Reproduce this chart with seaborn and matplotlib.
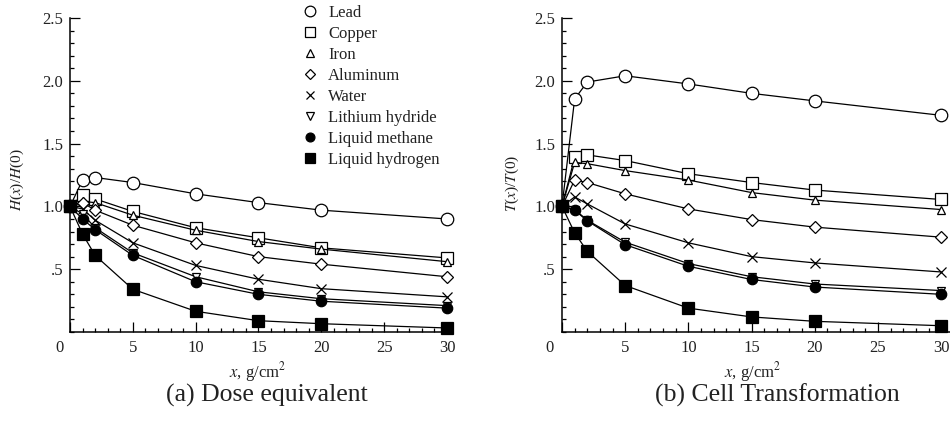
import matplotlib
matplotlib.use("Agg")
import matplotlib.pyplot as plt
import matplotlib.transforms as mtransforms
from matplotlib.lines import Line2D
from matplotlib.ticker import MultipleLocator
import seaborn as sns
import pandas as pd

x = [0, 1, 2, 5, 10, 15, 20, 30]

materials = ['Lead', 'Copper', 'Iron', 'Aluminum', 'Water',
             'Lithium hydride', 'Liquid methane', 'Liquid hydrogen']

# dose equivalent H(x)/H(0)
dose = {
    'Lead':            [1.0, 1.21, 1.23, 1.19, 1.10, 1.03, 0.97, 0.90],
    'Copper':          [1.0, 1.09, 1.06, 0.96, 0.83, 0.75, 0.67, 0.59],
    'Iron':            [1.0, 1.04, 1.03, 0.93, 0.81, 0.72, 0.66, 0.56],
    'Aluminum':        [1.0, 1.03, 0.97, 0.85, 0.71, 0.60, 0.54, 0.44],
    'Water':           [1.0, 0.98, 0.89, 0.71, 0.53, 0.42, 0.345, 0.28],
    'Lithium hydride': [1.0, 0.94, 0.83, 0.63, 0.44, 0.32, 0.265, 0.21],
    'Liquid methane':  [1.0, 0.90, 0.815, 0.61, 0.40, 0.30, 0.245, 0.19],
    'Liquid hydrogen': [1.0, 0.78, 0.61, 0.34, 0.165, 0.09, 0.066, 0.032],
}

# cell transformation T(x)/T(0)
cell = {
    'Lead':            [1.0, 1.855, 1.99, 2.04, 1.975, 1.90, 1.84, 1.725],
    'Copper':          [1.0, 1.39, 1.41, 1.365, 1.26, 1.19, 1.13, 1.055],
    'Iron':            [1.0, 1.35, 1.34, 1.285, 1.21, 1.11, 1.05, 0.975],
    'Aluminum':        [1.0, 1.21, 1.19, 1.10, 0.98, 0.895, 0.835, 0.755],
    'Water':           [1.0, 1.075, 1.02, 0.86, 0.71, 0.60, 0.55, 0.478],
    'Lithium hydride': [1.0, 0.975, 0.89, 0.715, 0.545, 0.44, 0.382, 0.33],
    'Liquid methane':  [1.0, 0.97, 0.885, 0.695, 0.523, 0.418, 0.358, 0.30],
    'Liquid hydrogen': [1.0, 0.79, 0.642, 0.37, 0.19, 0.12, 0.085, 0.05],
}

x_ticks = [0, 5, 10, 15, 20, 25, 30]
y_ticks = [0.5, 1.0, 1.5, 2.0, 2.5]
y_ticklabels = ['.5', '1.0', '1.5', '2.0', '2.5']

styles = {
    'Lead':            dict(marker='o', ms=9, mfc='white'),
    'Copper':          dict(marker='s', ms=8, mfc='white'),
    'Iron':            dict(marker='^', ms=6, mfc='white'),
    'Aluminum':        dict(marker='D', ms=6.5, mfc='white'),
    'Water':           dict(marker='x', ms=7.5, mfc='white'),
    'Lithium hydride': dict(marker='v', ms=6, mfc='white'),
    'Liquid methane':  dict(marker='o', ms=7.5, mfc='black'),
    'Liquid hydrogen': dict(marker='s', ms=8, mfc='black'),
}

rows = []
for m in materials:
    for xi, h, t in zip(x, dose[m], cell[m]):
        rows.append({'material': m, 'x': xi, 'H': h, 'T': t})
df = pd.DataFrame(rows)

sns.set_style("ticks")
plt.rcParams['font.family'] = ['Liberation Serif', 'DejaVu Serif']
plt.rcParams['mathtext.fontset'] = 'stix'

fig = plt.figure(figsize=(9.5, 4.23), dpi=100)
W, H = 950, 423
ax1 = fig.add_axes([70 / W, 1 - 332 / H, 382 / W, 314 / H])
ax2 = fig.add_axes([562 / W, 1 - 332 / H, 388 / W, 314 / H])


def draw(ax, col, xmax, ylab, lab_x, lab_y, zero_off):
    for m in materials:
        st = styles[m]
        sub = df[df['material'] == m]
        sns.lineplot(data=sub, x='x', y=col, ax=ax, color='black',
                     linewidth=0.9, marker=st['marker'], markersize=st['ms'],
                     markerfacecolor=st['mfc'], markeredgecolor='black',
                     markeredgewidth=0.9, errorbar=None, clip_on=False,
                     legend=False)
    ax.set_xlim(0, xmax)
    ax.set_ylim(0, 2.5)
    ax.set_xticks(x_ticks)
    ax.set_xticklabels([str(t) for t in x_ticks])
    ax.set_yticks(y_ticks)
    ax.set_yticklabels(y_ticklabels)
    ax.xaxis.set_minor_locator(MultipleLocator(1))
    ax.yaxis.set_minor_locator(MultipleLocator(0.1))
    ax.tick_params(which='both', direction='in', labelsize=12,
                   width=0.9, color='black', labelcolor='#222222')
    ax.tick_params(which='major', length=7)
    ax.tick_params(which='minor', length=3)
    ax.tick_params(axis='x', pad=6)
    ax.tick_params(axis='y', pad=5)
    sns.despine(ax=ax)
    for s in ['left', 'bottom']:
        ax.spines[s].set_linewidth(1.1)
        ax.spines[s].set_color('black')
    # the "0" label sits left of the corner
    lbl = ax.get_xticklabels()[0]
    lbl.set_transform(lbl.get_transform() +
                      mtransforms.ScaledTranslation(zero_off / 100, 0,
                                                    fig.dpi_scale_trans))
    ax.set_ylabel(ylab, fontsize=11, color='#222222', va='center')
    ax.yaxis.set_label_coords(lab_x, lab_y)
    ax.set_xlabel(r'$x$, g/cm$^2$', fontsize=12, color='#222222', va='center')
    ax.xaxis.set_label_coords(0.49, -0.127)


draw(ax1, 'H', 30.4, r'$H$($x$)/$H$(0)', -0.139, 0.484, -10)
draw(ax2, 'T', 30.7, r'$T$($x$)/$T$(0)', -0.129, 0.475, -13)

handles = []
for m in materials:
    st = styles[m]
    handles.append(Line2D([], [], linestyle='none', marker=st['marker'],
                          markersize=st['ms'] * 0.85, markerfacecolor=st['mfc'],
                          markeredgecolor='black', markeredgewidth=0.9))
fig.legend(handles, materials, loc='upper left',
           bbox_to_anchor=(300 / W, 1 - 5 / H), frameon=False,
           fontsize=12, borderpad=0, labelspacing=0.3, handlelength=1.2,
           handletextpad=0.5, borderaxespad=0, labelcolor='#222222')

fig.text(267 / W, 1 - 395 / H, '(a) Dose equivalent', ha='center',
         va='center', fontsize=18.5, color='#222222')
fig.text(777 / W, 1 - 395 / H, '(b) Cell Transformation', ha='center',
         va='center', fontsize=18.5, color='#222222')

fig.savefig('out.png', dpi=100)
